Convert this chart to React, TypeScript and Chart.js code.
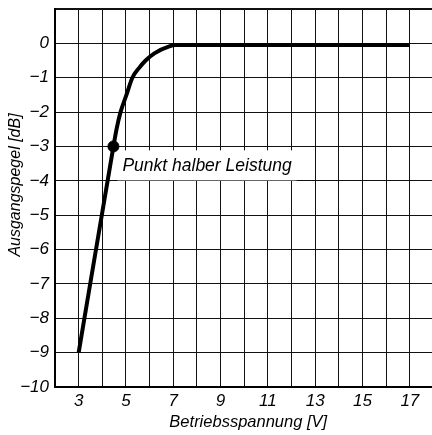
import React, { useEffect, useRef } from "react";
import { Chart, registerables } from "chart.js";

Chart.register(...registerables);

// Betriebsspannung [V]
const voltage = [3, 4.47, 4.6, 4.77, 5.02, 5.27, 5.55, 5.83, 6.2, 6.83, 7.1, 17];
// Ausgangspegel [dB]
const level = [-9, -3, -2.5, -2, -1.5, -1, -0.72, -0.5, -0.29, -0.09, -0.05, -0.05];
// half-power point
const halfPowerX = [4.47];
const halfPowerY = [-3];
const halfPowerLabel = "Punkt halber Leistung";
const labelAnchor = { x: 4.85, y: -3.55 };

const xTickLabels = [3, 5, 7, 9, 11, 13, 15, 17];
const yTickLabels = [0, -1, -2, -3, -4, -5, -6, -7, -8, -9, -10];
const xTitle = "Betriebsspannung [V]";
const yTitle = "Ausgangspegel [dB]";

const FONT = "'Liberation Sans', Arial, sans-serif";

const labelPlugin = {
  id: "halfPowerLabel",
  beforeDatasetsDraw(chart: any) {
    const { ctx, scales } = chart;
    const px = scales.x.getPixelForValue(labelAnchor.x);
    const py = scales.y.getPixelForValue(labelAnchor.y);
    ctx.save();
    ctx.font = `italic 17.5px ${FONT}`;
    const w = ctx.measureText(halfPowerLabel).width;
    ctx.fillStyle = "#fff";
    ctx.fillRect(px - 5, py - 15, w + 10, 30);
    ctx.fillStyle = "#000";
    ctx.textBaseline = "middle";
    ctx.textAlign = "left";
    ctx.fillText(halfPowerLabel, px, py + 1);
    ctx.restore();
  },
  afterDraw(chart: any) {
    const { ctx, chartArea } = chart;
    ctx.save();
    ctx.fillStyle = "#000";
    ctx.textAlign = "center";
    ctx.textBaseline = "middle";
    ctx.font = `italic 16.5px ${FONT}`;
    ctx.fillText(xTitle, (chartArea.left + chartArea.right) / 2 + 4, chartArea.bottom + 35);
    ctx.translate(16, (chartArea.top + chartArea.bottom) / 2 - 13);
    ctx.rotate(-Math.PI / 2);
    ctx.font = `italic 16px ${FONT}`;
    ctx.fillText(yTitle, 0, 0);
    ctx.restore();
  },
};

export default function App() {
  const ref = useRef<HTMLCanvasElement>(null);
  useEffect(() => {
    if (!ref.current) return;
    const chart = new Chart(ref.current, {
      type: "line",
      data: {
        datasets: [
          {
            data: voltage.map((x, i) => ({ x, y: level[i] })),
            borderColor: "#000",
            borderWidth: 4,
            pointRadius: 0,
            cubicInterpolationMode: "monotone",
            fill: false,
          },
          {
            data: halfPowerX.map((x, i) => ({ x, y: halfPowerY[i] })),
            showLine: false,
            pointRadius: 5.5,
            pointBackgroundColor: "#000",
            pointBorderColor: "#000",
          },
        ],
      },
      options: {
        responsive: false,
        animation: false,
        plugins: { legend: { display: false }, tooltip: { enabled: false } },
        layout: { padding: { top: 9, right: 2, left: 0, bottom: 0 } },
        scales: {
          x: {
            type: "linear",
            min: 2,
            max: 18,
            afterFit: (s: any) => {
              s.height = 48;
              s.paddingLeft = 0;
              s.paddingRight = 0;
            },
            ticks: {
              stepSize: 1,
              autoSkip: false,
              maxRotation: 0,
              padding: 4,
              color: "#000",
              font: { family: FONT, size: 17, style: "italic" },
              callback: (v: any) => (xTickLabels.includes(v) ? String(v) : ""),
            },
            grid: { color: "#111", lineWidth: 1, drawTicks: false },
            border: { color: "#000", width: 2 },
          },
          y: {
            type: "linear",
            min: -10,
            max: 1,
            afterFit: (s: any) => {
              s.width = 55;
              s.paddingTop = 0;
              s.paddingBottom = 0;
            },
            ticks: {
              stepSize: 1,
              autoSkip: false,
              padding: 6,
              color: "#000",
              font: { family: FONT, size: 17, style: "italic" },
              callback: (v: any) =>
                yTickLabels.includes(v) ? (v < 0 ? "\u2212" + Math.abs(v) : String(v)) : "",
            },
            grid: {
              color: "#111",
              lineWidth: (c: any) => (c.tick && c.tick.value === 1 ? 2 : 1),
              drawTicks: false,
            },
            border: { color: "#000", width: 2 },
          },
        },
      },
      plugins: [labelPlugin],
    } as any);
    return () => chart.destroy();
  }, []);
  return (
    <canvas
      ref={ref}
      width={440}
      height={435}
      style={{ position: "fixed", left: 0, top: 0, width: 440, height: 435 }}
    />
  );
}
